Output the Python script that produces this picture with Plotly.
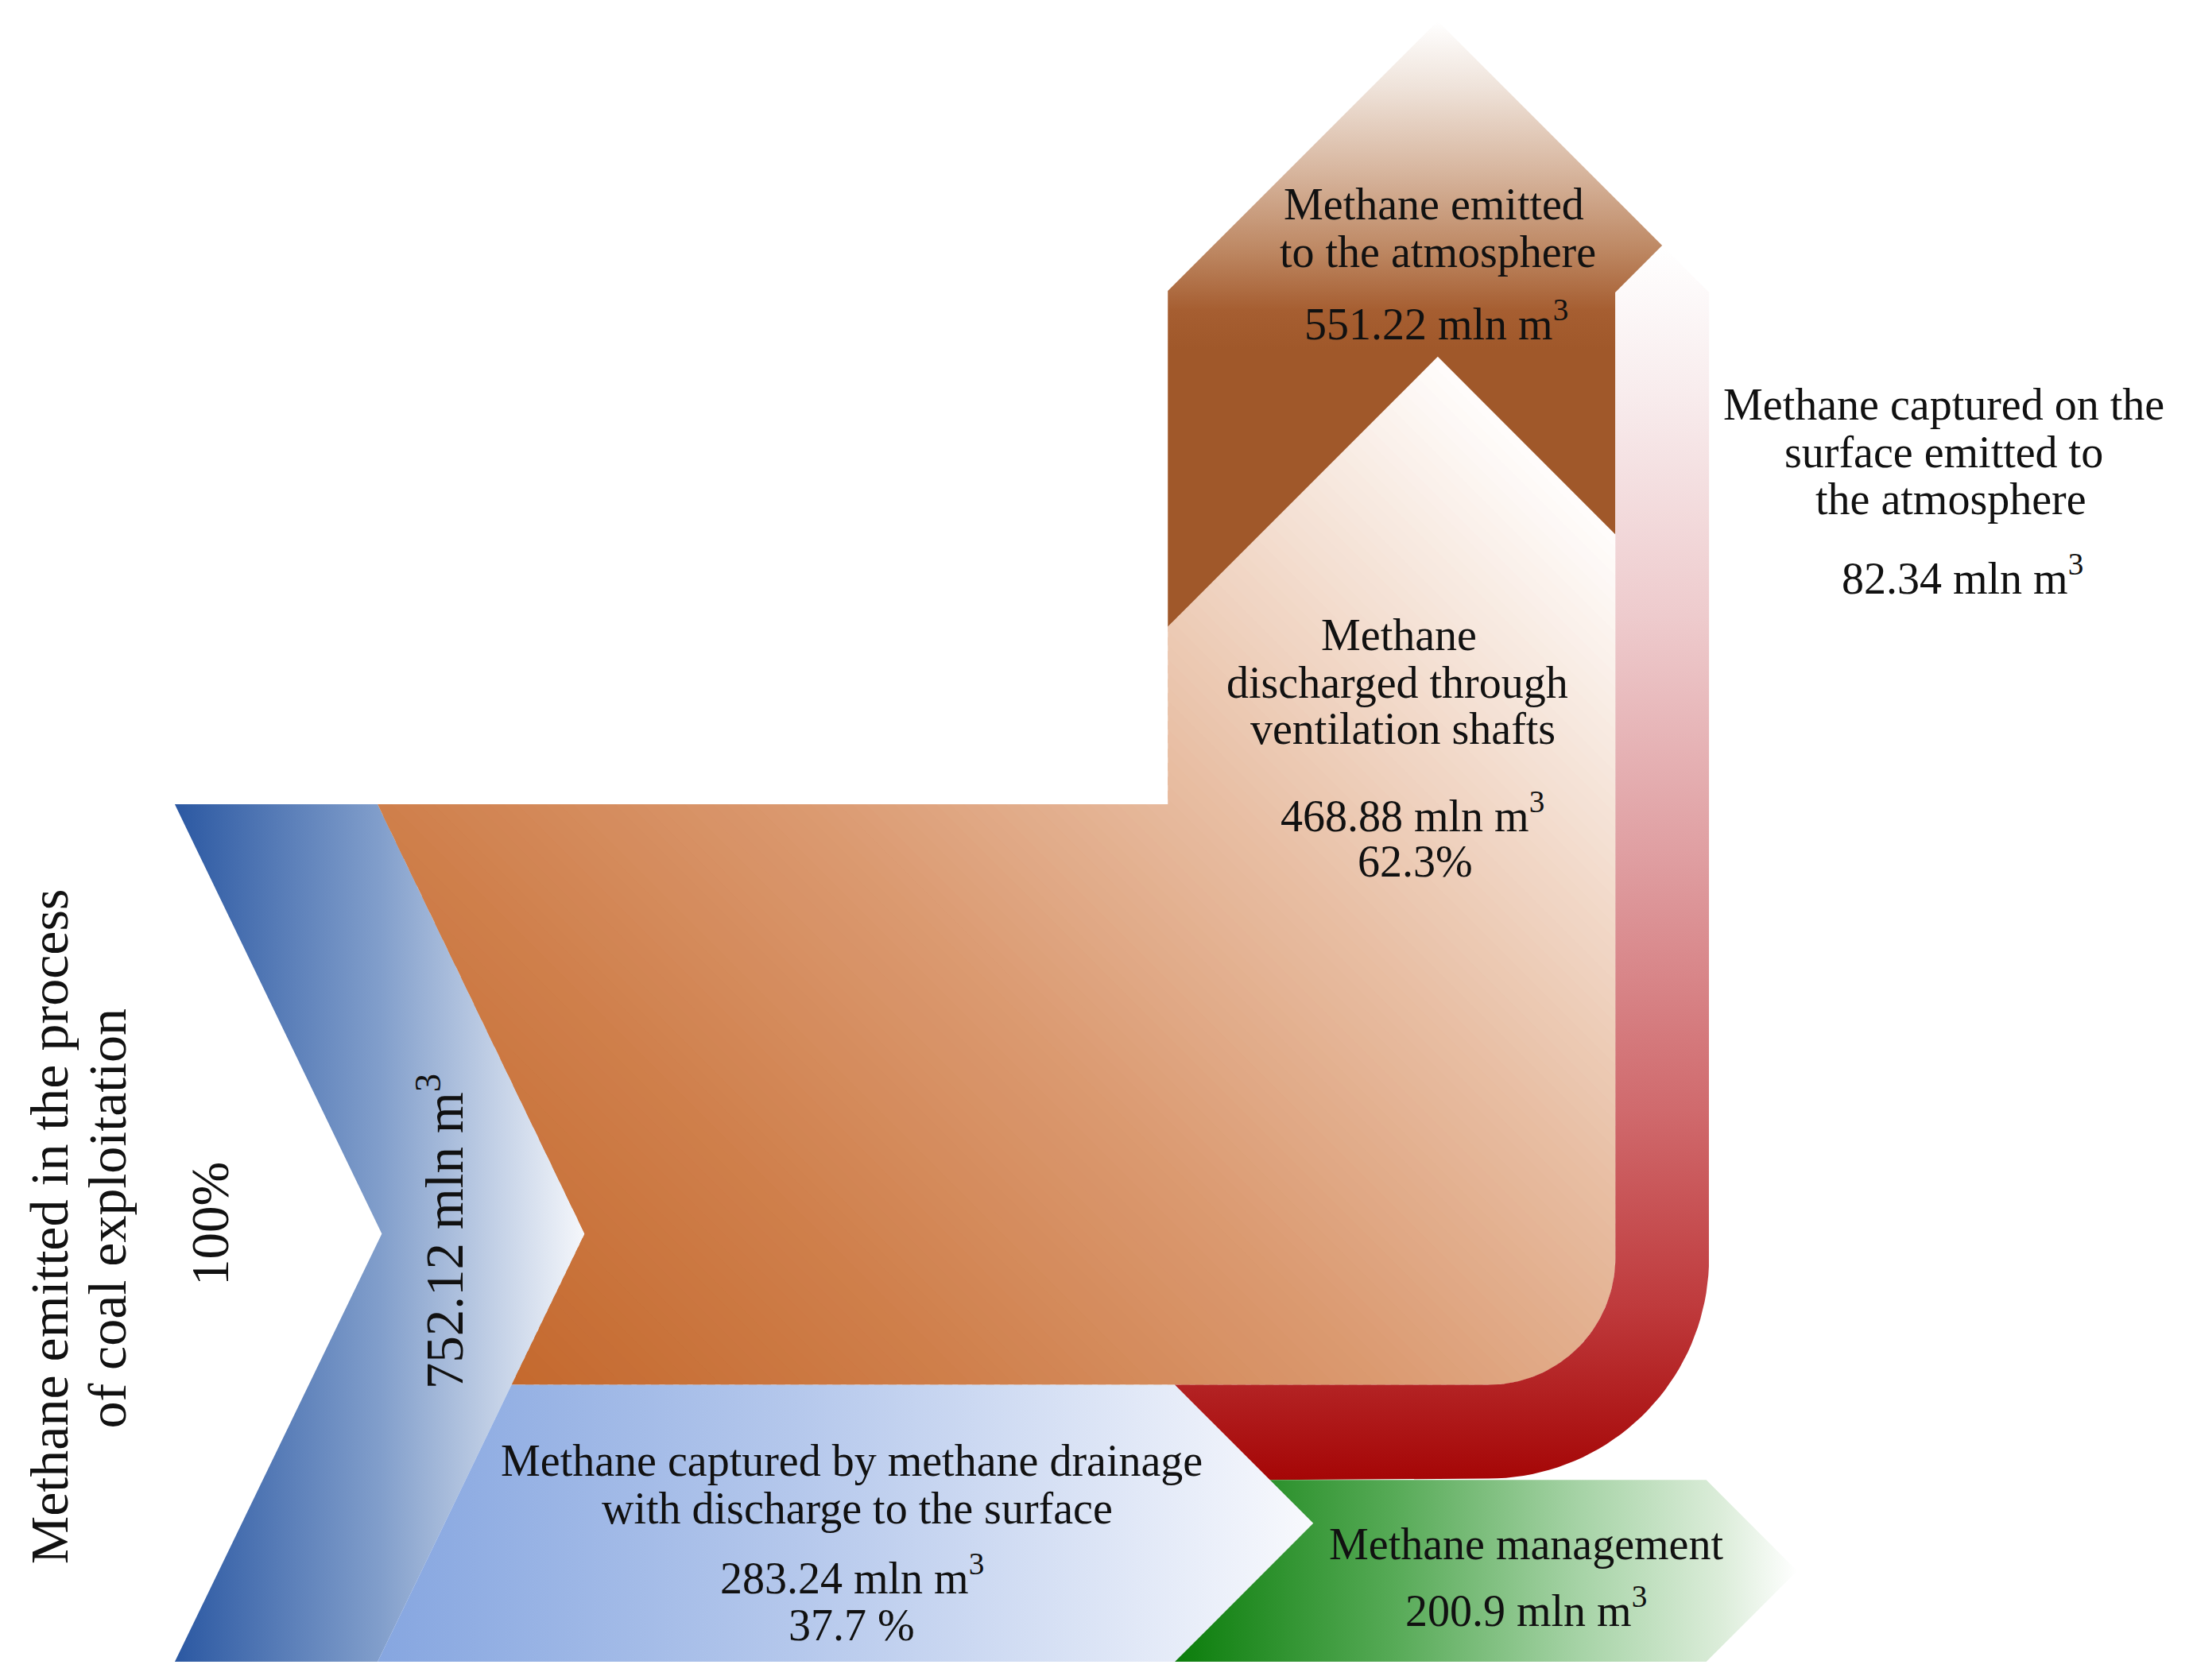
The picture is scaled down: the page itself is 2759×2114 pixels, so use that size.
import numpy as np
import plotly.graph_objects as go

# flows (mln m3) and shares
flow_names = ["Methane emitted in the process of coal exploitation",
              "Methane discharged through ventilation shafts",
              "Methane captured by methane drainage with discharge to the surface",
              "Methane emitted to the atmosphere",
              "Methane captured on the surface emitted to the atmosphere",
              "Methane management"]
flow_values = [752.12, 468.88, 283.24, 551.22, 82.34, 200.9]
share_labels = ["100%", "62.3%", "37.7 %"]

FONT = "Liberation Serif"
W, H = 2759, 2114
SX, SY = 1568, 1201  # layout units

# layout anchors (layout units, y grows downward)
X0, XB, CH = 125, 270, 148
Y_TOP, Y_MID, Y_BOT = 575, 882, 1188
Y_SPLIT = 990
X_SH_L, X_SH_R, X_RED_R = 835, 1155, 1222
X_TIP, Y_TIP = 1028, 15
NOTCH = 240
CX, CY, R_IN, R_OUT = 1064, 899, 91, 158
Y_RED_BOT = 1058
X_BL = 840
X_GR = 1220

fig = go.Figure()


def mln(v):
    return f"{v} mln m<sup>3</sup>"


def closed(pts):
    xs = [p[0] for p in pts] + [pts[0][0]]
    ys = [p[1] for p in pts] + [pts[0][1]]
    return xs, ys


def add_grad(pts, kind, start, stop, scale):
    xs, ys = closed(pts)
    fig.add_trace(go.Scatter(x=xs, y=ys, mode="lines", fill="toself",
                             line=dict(width=0),
                             fillgradient=dict(type=kind, start=start, stop=stop, colorscale=scale),
                             hoverinfo="skip", showlegend=False))


def hex2rgb(h):
    h = h.lstrip("#")
    return np.array([int(h[i:i + 2], 16) for i in (0, 2, 4)], float)


def interp(scale, f):
    for (p0, c0), (p1, c1) in zip(scale[:-1], scale[1:]):
        if p0 <= f <= p1:
            s = (f - p0) / (p1 - p0) if p1 > p0 else 0
            c = hex2rgb(c0) * (1 - s) + hex2rgb(c1) * s
            return "rgb(%d,%d,%d)" % tuple(np.round(c))
    return scale[-1][1]


def clip(poly, d, c, sign):
    out = []
    n = len(poly)
    for i in range(n):
        p, q = poly[i], poly[(i + 1) % n]
        fp = sign * (p[0] * d[0] + p[1] * d[1] - c)
        fq = sign * (q[0] * d[0] + q[1] * d[1] - c)
        if fp >= 0:
            out.append(p)
        if (fp >= 0) != (fq >= 0):
            s = fp / (fp - fq)
            out.append((p[0] + s * (q[0] - p[0]), p[1] + s * (q[1] - p[1])))
    return out


def add_diag(pts, d, scale, n=140):
    t = [p[0] * d[0] + p[1] * d[1] for p in pts]
    t0, t1 = min(t), max(t)
    step = (t1 - t0) / n
    for k in range(n):
        a = t0 + k * step
        b = a + step * 1.6
        band = clip(clip(pts, d, a, 1), d, b, -1)
        if len(band) < 3:
            continue
        xs, ys = closed(band)
        fig.add_trace(go.Scatter(x=xs, y=ys, mode="lines", fill="toself",
                                 fillcolor=interp(scale, (a + step / 2 - t0) / (t1 - t0)),
                                 line=dict(width=0), hoverinfo="skip", showlegend=False))


def arc(r, a0, a1, n=40):
    th = np.linspace(np.radians(a0), np.radians(a1), n)
    return [(CX + r * np.cos(v), CY + r * np.sin(v)) for v in th]


# source chevron
chevron = [(X0, Y_TOP), (XB, Y_TOP), (XB + CH, Y_MID), (XB, Y_BOT), (X0, Y_BOT), (X0 + CH, Y_MID)]
add_grad(chevron, "horizontal", X0, XB + CH,
         [[0, "#2b58a2"], [0.5, "#819ecb"], [1, "#f5f7fb"]])

x_split = XB + CH - CH * (Y_SPLIT - Y_MID) / (Y_BOT - Y_MID)

# ventilation flow (orange)
notch_l = Y_TIP + NOTCH + (X_TIP - X_SH_L)
notch_r = Y_TIP + NOTCH + (X_SH_R - X_TIP)
orange = ([(XB, Y_TOP), (X_SH_L, Y_TOP), (X_SH_L, notch_l), (X_TIP, Y_TIP + NOTCH),
           (X_SH_R, notch_r)] + arc(R_IN, 0, 90) + [(x_split, Y_SPLIT), (XB + CH, Y_MID)])
add_diag(orange, (1, -1), [[0, "#c4692e"], [0.23, "#cf7f4b"], [0.45, "#db9a71"],
                           [0.66, "#e8bea3"], [0.84, "#f4e0d3"], [1, "#fffdfc"]])

# drainage flow (light blue)
half = (Y_BOT - Y_SPLIT) / 2
drain = [(x_split, Y_SPLIT), (X_BL, Y_SPLIT), (X_BL + half, Y_SPLIT + half), (X_BL, Y_BOT), (XB, Y_BOT)]
add_grad(drain, "horizontal", XB, X_BL + half,
         [[0, "#86a6e0"], [0.45, "#b5c8ec"], [1, "#f8f9fd"]])

# emitted to atmosphere (brown arrow)
x_peak = (X_SH_R + X_RED_R) / 2
y_peak = Y_TIP + (x_peak - X_TIP)
y_red_top = y_peak + (X_RED_R - x_peak)
brown = [(X_SH_L, notch_l), (X_SH_L, Y_TIP + (X_TIP - X_SH_L)), (X_TIP, Y_TIP), (x_peak, y_peak),
         (X_SH_R, y_red_top), (X_SH_R, notch_r), (X_TIP, Y_TIP + NOTCH)]
add_grad(brown, "vertical", Y_TIP, 250,
         [[0, "#ffffff"], [0.2, "#efe3da"], [0.45, "#d8b7a0"], [0.7, "#bd8762"],
          [0.88, "#a65e31"], [1, "#a0582a"]])

# surface captured, emitted (red band)
red = ([(X_SH_R, y_red_top), (x_peak, y_peak), (X_RED_R, y_red_top)] + arc(R_OUT, 0, 90)
       + [(X_BL + (Y_RED_BOT - Y_SPLIT), Y_RED_BOT), (X_BL, Y_SPLIT)] + arc(R_IN, 90, 0))
add_grad(red, "vertical", y_peak, Y_RED_BOT,
         [[0, "#ffffff"], [0.12, "#f8eced"], [0.3, "#eecbcd"], [0.5, "#df9da0"],
          [0.7, "#d06a6d"], [0.86, "#bf3a3c"], [1, "#a50606"]])

# methane management (green arrow)
ghalf = (Y_BOT - Y_RED_BOT) / 2
green = [(X_BL + (Y_RED_BOT - Y_SPLIT), Y_RED_BOT), (X_GR, Y_RED_BOT), (X_GR + ghalf, Y_RED_BOT + ghalf),
         (X_GR, Y_BOT), (X_BL, Y_BOT), (X_BL + half, Y_SPLIT + half)]
add_grad(green, "horizontal", X_BL, X_GR + ghalf,
         [[0, "#0b7d0b"], [0.35, "#56aa56"], [0.65, "#a6d3a6"], [0.88, "#dcedda"], [1, "#ffffff"]])


def label(lines, x, ys, size=56, angle=0, xs=None):
    for i, (txt, y) in enumerate(zip(lines, ys)):
        fig.add_annotation(x=xs[i] if xs else x, y=y, text=txt, showarrow=False, textangle=angle,
                           xanchor="center", yanchor="middle", borderpad=0,
                           font=dict(family=FONT, size=size, color="#111111"))


label(["Methane emitted", "to the atmosphere", mln(flow_values[3])], 1025, [146, 180, 229],
      xs=[1025, 1028, 1027])
label(["Methane", "discharged through", "ventilation shafts", mln(flow_values[1]), share_labels[1]],
      1000, [454, 488, 521, 581, 616], xs=[1000, 999, 1003, 1010, 1012])
label(["Methane captured on the", "surface emitted to", "the atmosphere", mln(flow_values[4])],
      1390, [289, 323, 357, 411], xs=[1390, 1390, 1395, 1403])
label(["Methane captured by methane drainage", "with discharge to the surface",
       mln(flow_values[2]), share_labels[2]], 609, [1044, 1078, 1126, 1162], xs=[609, 613, 609, 609])
label(["Methane management", mln(flow_values[5])], 1091, [1104, 1149])
label(["Methane emitted in the process"], 35, [877], size=68, angle=-90)
label(["of coal exploitation"], 77, [871], size=68, angle=-90)
label([share_labels[0]], 150, [875], size=67, angle=-90)
label([mln(flow_values[0])], 315, [880], size=67, angle=-90)

fig.update_layout(
    width=W, height=H,
    margin=dict(l=0, r=0, t=0, b=0),
    paper_bgcolor="white", plot_bgcolor="white",
    xaxis=dict(range=[0, SX], visible=False, fixedrange=True),
    yaxis=dict(range=[SY, 0], visible=False, fixedrange=True),
    showlegend=False,
)

# drop the default page margin so the figure sits at the window's corner
fig.write_html("out.html", config={"displayModeBar": False},
               post_script="document.body.style.margin='0';")
